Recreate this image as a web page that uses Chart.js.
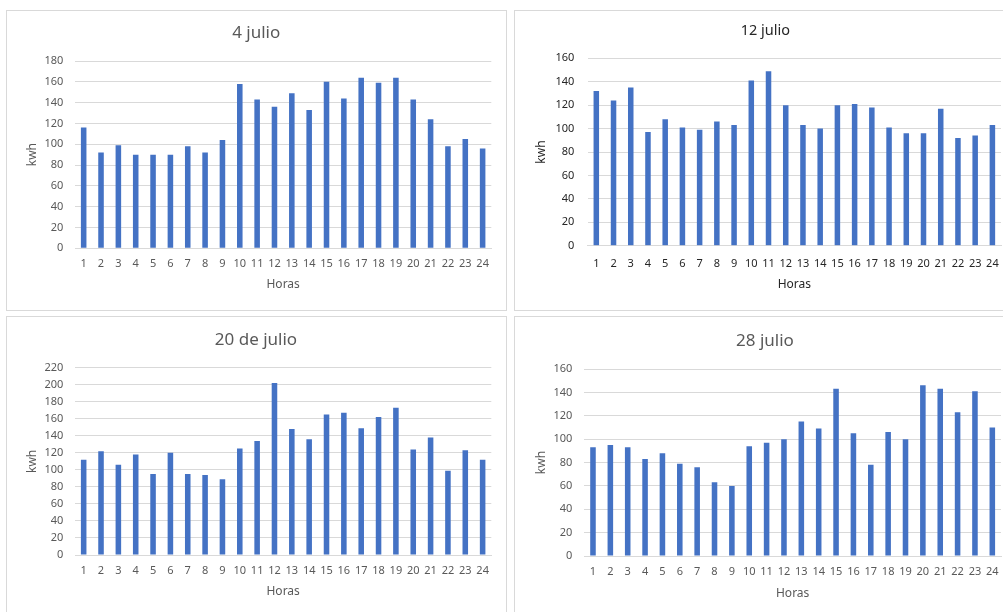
<!DOCTYPE html>
<html>
<head>
<meta charset="utf-8">
<script src="https://cdn.jsdelivr.net/npm/chart.js@4.4.1/dist/chart.umd.min.js"></script>
<style>
  html, body { margin: 0; padding: 0; background: #fff; overflow: hidden; width: 1003px; height: 612px; }
  .panel { position: absolute; box-sizing: border-box; border: 1px solid #d9d9d9; background: #fff; }
  canvas { position: absolute; }
</style>
</head>
<body>
<div class="panel" style="left:6px;top:10px;width:501px;height:301px"></div>
<div class="panel" style="left:514px;top:10px;width:510px;height:301px"></div>
<div class="panel" style="left:6px;top:316px;width:501px;height:310px"></div>
<div class="panel" style="left:514px;top:316px;width:510px;height:310px"></div>
<script>
// Hourly consumption (kWh) for four days of July
const horas = ['1','2','3','4','5','6','7','8','9','10','11','12','13','14','15','16','17','18','19','20','21','22','23','24'];
const kwh4Julio  = [116, 92, 99, 90, 90, 90, 98, 92, 104, 158, 143, 136, 149, 133, 160, 144, 164, 159, 164, 143, 124, 98, 105, 96];
const kwh12Julio = [132, 124, 135, 97, 108, 101, 99, 106, 103, 141, 149, 120, 103, 100, 120, 121, 118, 101, 96, 96, 117, 92, 94, 103];
const kwh20Julio = [112, 122, 106, 118, 95, 120, 95, 94, 89, 125, 134, 202, 148, 136, 165, 167, 149, 162, 173, 124, 138, 99, 123, 112];
const kwh28Julio = [93, 95, 93, 83, 88, 79, 76, 63, 60, 94, 97, 100, 115, 109, 143, 105, 78, 106, 100, 146, 143, 123, 141, 110];
const titulos = ['4 julio', '12 julio', '20 de julio', '28 julio'];
const ejeMax = [180, 160, 220, 160];
const pasoEje = 20;

const FONT = '"Noto Sans", sans-serif';
const BAR = '#4472C4';
const GRID = '#d9d9d9';

function makeChart(spec) {
  const cv = spec.canvas, plot = spec.plot;
  const el = document.createElement('canvas');
  el.width = cv.w; el.height = cv.h;
  el.style.left = cv.l + 'px'; el.style.top = cv.t + 'px';
  document.body.appendChild(el);

  const tlh = spec.titleSize * 1.2;
  const tPadTop = spec.titleY - cv.t - tlh / 2;
  const tPadBottom = (plot.t - cv.t) - tlh - tPadTop;
  const padR = cv.l + cv.w - plot.r;
  const padL = Math.max(0, 2 * (spec.titleX - cv.l) - cv.w + padR);
  const yW = plot.l - cv.l - padL;
  const xH = cv.t + cv.h - plot.b;
  const tickLh = 11 * 1.2;
  const xTickPad = spec.tickY - plot.b - tickLh / 2;
  const axLh = 12 * 1.2;
  const xTitlePad = (cv.t + cv.h) - spec.axisTitleY - axLh / 2;
  const yTitlePad = spec.axisTitleX - (cv.l + padL) - axLh / 2;
  const yTickPad = plot.l - spec.yLabelRight;
  const color = spec.textColor;

  new Chart(el, {
    type: 'bar',
    data: {
      labels: horas,
      datasets: [{
        data: spec.values,
        backgroundColor: BAR,
        borderWidth: 0,
        barPercentage: 1,
        categoryPercentage: 0.32
      }]
    },
    options: {
      responsive: false,
      animation: false,
      devicePixelRatio: 1,
      layout: { padding: { left: padL, right: padR, top: 0, bottom: 0 } },
      plugins: {
        legend: { display: false },
        tooltip: { enabled: false },
        title: {
          display: true,
          text: spec.title,
          color: color,
          font: { family: FONT, size: spec.titleSize, weight: 'normal' },
          padding: { top: tPadTop, bottom: tPadBottom }
        }
      },
      scales: {
        x: {
          grid: { display: false, drawTicks: false },
          border: { display: true, color: GRID },
          ticks: { color: color, font: { family: FONT, size: 11 }, padding: xTickPad, maxRotation: 0, autoSkip: false },
          title: { display: true, text: 'Horas', color: color, font: { family: FONT, size: 12 }, padding: { top: 0, bottom: xTitlePad } },
          afterFit(s) { s.height = xH; }
        },
        y: {
          min: 0,
          max: spec.max,
          ticks: { stepSize: pasoEje, color: color, font: { family: FONT, size: 11 }, padding: yTickPad },
          grid: { color: GRID, drawTicks: false },
          border: { display: false },
          title: { display: true, text: 'kwh', color: color, font: { family: FONT, size: 12 }, padding: { top: yTitlePad, bottom: 0 } },
          afterFit(s) { s.width = yW; }
        }
      }
    }
  });
}

makeChart({
  canvas: { l: 7, t: 11, w: 499, h: 299 },
  plot: { l: 75, t: 61, r: 491.3, b: 248.3 },
  title: titulos[0], titleSize: 17, titleX: 256.2, titleY: 33,
  tickY: 264.3, axisTitleY: 285, axisTitleX: 32.3, yLabelRight: 63.3,
  values: kwh4Julio, max: ejeMax[0], textColor: '#595959'
});
makeChart({
  canvas: { l: 515, t: 11, w: 500, h: 299 },
  plot: { l: 587.7, t: 58.3, r: 1001, b: 245.7 },
  title: titulos[1], titleSize: 14.5, titleX: 765.3, titleY: 31,
  tickY: 264.3, axisTitleY: 285, axisTitleX: 541.7, yLabelRight: 574.3,
  values: kwh12Julio, max: ejeMax[1], textColor: '#262626'
});
makeChart({
  canvas: { l: 7, t: 317, w: 499, h: 300 },
  plot: { l: 75, t: 367.7, r: 491.3, b: 555 },
  title: titulos[2], titleSize: 17, titleX: 256, titleY: 340,
  tickY: 571, axisTitleY: 591.7, axisTitleX: 32.3, yLabelRight: 63.3,
  values: kwh20Julio, max: ejeMax[2], textColor: '#595959'
});
makeChart({
  canvas: { l: 515, t: 317, w: 500, h: 300 },
  plot: { l: 584.3, t: 369, r: 1001, b: 556 },
  title: titulos[3], titleSize: 17, titleX: 765, titleY: 340.7,
  tickY: 572, axisTitleY: 593.7, axisTitleX: 541.7, yLabelRight: 572.3,
  values: kwh28Julio, max: ejeMax[3], textColor: '#595959'
});
</script>
</body>
</html>
